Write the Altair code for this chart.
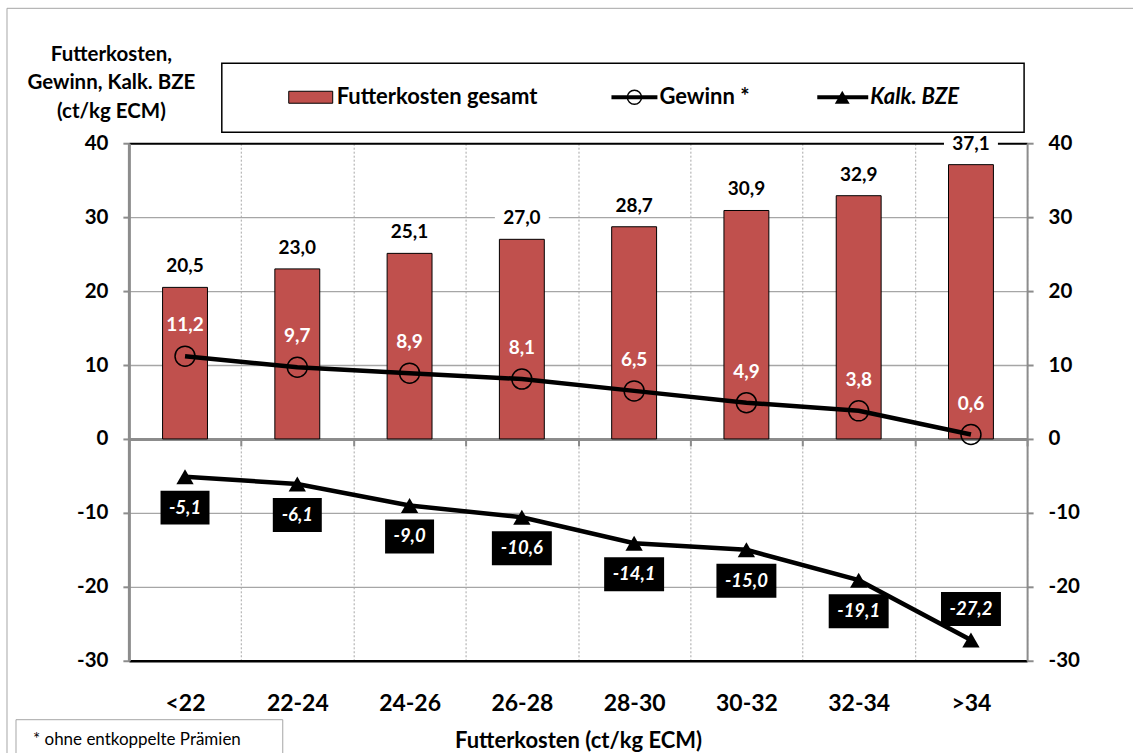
import altair as alt
import pandas as pd

# Feed-cost classes (ct/kg ECM) and the three series per class
cats = ["<22", "22-24", "24-26", "26-28", "28-30", "30-32", "32-34", ">34"]
futterkosten = [20.5, 23.0, 25.1, 27.0, 28.7, 30.9, 32.9, 37.1]
gewinn = [11.2, 9.7, 8.9, 8.1, 6.5, 4.9, 3.8, 0.6]
kalk_bze = [-5.1, -6.1, -9.0, -10.6, -14.1, -15.0, -19.1, -27.2]

series_names = ["Futterkosten gesamt", "Gewinn *", "Kalk. BZE"]
y_ticks = [-30, -20, -10, 0, 10, 20, 30, 40]
y_title = ["Futterkosten,", "Gewinn, Kalk. BZE", "(ct/kg ECM)"]
x_title = "Futterkosten (ct/kg ECM)"
footnote = "* ohne entkoppelte Prämien"

df = pd.DataFrame({"cat": cats, "kosten": futterkosten, "gewinn": gewinn, "bze": kalk_bze})

FONT = "Lato"
RED = "#C0504D"
GRAY = "#8c8c8c"

# German number format: decimal comma, plain hyphen for negatives
def label_expr(field):
    return f"replace(replace(format(datum.{field}, '.1f'), '.', ','), '\u2212', '-')"

yscale = alt.Scale(domain=[-30, 40], nice=False, zero=False)
xscale = alt.Scale(paddingInner=0, paddingOuter=0)

left_axis = alt.Axis(
    orient="left", values=y_ticks, labelExpr="toString(datum.value)",
    domain=True, domainColor=GRAY, domainWidth=3,
    ticks=True, tickColor=GRAY, tickWidth=2, tickSize=6,
    labelFont=FONT, labelFontSize=20.5, labelFontWeight="bold", labelColor="black", labelPadding=15,
    grid=True,
    gridColor={"condition": [
        {"test": "datum.value == 40 || datum.value == -30", "value": "black"},
        {"test": "datum.value == 0", "value": GRAY},
    ], "value": "#a6a6a6"},
    gridWidth={"condition": [
        {"test": "datum.value == 0", "value": 3},
        {"test": "datum.value == -30", "value": 2.5},
        {"test": "datum.value == 40", "value": 2},
    ], "value": 1.3},
    title=y_title, titleAngle=0, titleAlign="center", titleBaseline="alphabetic",
    titleX=-18, titleY=-83, titleFont=FONT, titleFontSize=20.5, titleFontWeight="bold",
    titleLineHeight=28.5, titleColor="black",
)

right_axis = alt.Axis(
    orient="right", values=y_ticks, labelExpr="toString(datum.value)",
    domain=True, domainColor=GRAY, domainWidth=2,
    ticks=True, tickColor=GRAY, tickWidth=2, tickSize=6,
    labelFont=FONT, labelFontSize=20.5, labelFontWeight="bold", labelColor="black", labelPadding=15,
    grid=False, title=None,
)

main_x_axis = alt.Axis(
    orient="bottom", tickBand="extent", grid=True, gridDash=[2, 2], gridColor="#a6a6a6", gridWidth=1,
    ticks=False, domain=False, labelAngle=0,
    labelFont=FONT, labelFontSize=23, labelFontWeight="bold", labelColor="black", labelPadding=32,
    title=x_title, titleFont=FONT, titleFontSize=22, titleFontWeight="bold", titleColor="black",
    titlePadding=15,
)

zero_x_axis = alt.Axis(
    orient="bottom", offset=-222, tickBand="extent", labels=False, domain=False, grid=False,
    ticks=True, tickColor=GRAY, tickWidth=2, tickSize=7, title=None,
)

def X(axis=None):
    return alt.X("cat:N", sort=cats, scale=xscale, axis=axis)

base = alt.Chart(df)

bars = base.mark_bar(width={"band": 0.4}, color=RED, stroke="black", strokeWidth=1).encode(
    x=X(main_x_axis), y=alt.Y("kosten:Q", scale=yscale, axis=left_axis)
)

# white backing behind the cost labels so grid lines stop short of the numbers
box_cost = "M-1,-0.41L1,-0.41L1,0.41L-1,0.41Z"
cost_halo = base.mark_point(shape=box_cost, size=2916, filled=True, color="white", opacity=1,
                            strokeWidth=0, yOffset=-21).encode(
    x=X(), y=alt.Y("kosten:Q", scale=yscale, axis=None)
)
cost_text = base.transform_calculate(lbl=label_expr("kosten")).mark_text(
    font=FONT, fontSize=19, fontWeight="bold", color="black", baseline="middle", yOffset=-21
).encode(x=X(), y=alt.Y("kosten:Q", scale=yscale, axis=None), text="lbl:N")

gewinn_line = base.mark_line(color="black", strokeWidth=4.5).encode(
    x=X(zero_x_axis), y=alt.Y("gewinn:Q", scale=yscale, axis=right_axis)
)
gewinn_pts = base.mark_point(shape="circle", filled=False, color="black", size=400,
                             strokeWidth=1.5, opacity=1).encode(
    x=X(), y=alt.Y("gewinn:Q", scale=yscale, axis=None)
)
gewinn_text = base.transform_calculate(lbl=label_expr("gewinn")).mark_text(
    font=FONT, fontSize=19, fontWeight="bold", color="white", baseline="middle", yOffset=-31
).encode(x=X(), y=alt.Y("gewinn:Q", scale=yscale, axis=None), text="lbl:N")

bze_line = base.mark_line(color="black", strokeWidth=4.5).encode(
    x=X(), y=alt.Y("bze:Q", scale=yscale, axis=None)
)
bze_pts = base.mark_point(shape="triangle-up", filled=True, color="black", size=300, opacity=1).encode(
    x=X(), y=alt.Y("bze:Q", scale=yscale, axis=None)
)

box4 = "M-0.817,-0.567L0.817,-0.567L0.817,0.567L-0.817,0.567Z"
box5 = "M-1,-0.567L1,-0.567L1,0.567L-1,0.567Z"

def bze_labels(test, dy):
    src = base.transform_filter(test).transform_calculate(lbl=label_expr("bze")).transform_calculate(
        n="length(datum.lbl)")
    boxes = src.mark_point(size=3600, filled=True, color="black", opacity=1, strokeWidth=0, yOffset=dy).encode(
        x=X(), y=alt.Y("bze:Q", scale=yscale, axis=None),
        shape=alt.Shape("n:O", scale=alt.Scale(domain=[4, 5], range=[box4, box5]), legend=None),
    )
    texts = src.mark_text(font=FONT, fontSize=18.5, fontWeight="bold", fontStyle="italic", color="white",
                          baseline="middle", yOffset=dy).encode(
        x=X(), y=alt.Y("bze:Q", scale=yscale, axis=None), text="lbl:N"
    )
    return [boxes, texts]

bze_below = bze_labels("datum.cat != '>34'", 31)
bze_above = bze_labels("datum.cat == '>34'", -31)

# Frame around the whole graphic and the footnote box (pixel offsets from the plot origin)
one = pd.DataFrame({"k": [0]})
frame = alt.Chart(one).mark_rect(fill=None, stroke="#a6a6a6", strokeWidth=1).encode(
    x=alt.value(-122), x2=alt.value(1030), y=alt.value(-135), y2=alt.value(700)
)
note_box = alt.Chart(one).mark_rect(fill="white", stroke="#a6a6a6", strokeWidth=1).encode(
    x=alt.value(-113), x2=alt.value(154), y=alt.value(577), y2=alt.value(700)
)
note_text = alt.Chart(pd.DataFrame({"t": [footnote]})).mark_text(
    font=FONT, fontSize=17, align="left", baseline="middle", color="black"
).encode(x=alt.value(-96), y=alt.value(597), text="t:N")

# Legend
LY = -46
leg_box = alt.Chart(one).mark_rect(fill="white", stroke="black", strokeWidth=1.5).encode(
    x=alt.value(93), x2=alt.value(896), y=alt.value(-80), y2=alt.value(-11)
)
leg_swatch = alt.Chart(one).mark_rect(fill=RED, stroke="black", strokeWidth=1).encode(
    x=alt.value(160), x2=alt.value(204), y=alt.value(-52), y2=alt.value(-40)
)
leg_rule1 = alt.Chart(one).mark_rule(color="black", strokeWidth=4).encode(
    x=alt.value(483), x2=alt.value(529), y=alt.value(LY)
)
leg_circ = alt.Chart(one).mark_point(shape="circle", filled=False, color="black", size=200,
                                     strokeWidth=1.5, opacity=1).encode(x=alt.value(506), y=alt.value(LY))
leg_rule2 = alt.Chart(one).mark_rule(color="black", strokeWidth=4).encode(
    x=alt.value(689), x2=alt.value(740), y=alt.value(LY)
)
leg_tri = alt.Chart(one).mark_point(shape="triangle-up", filled=True, color="black", size=220,
                                    opacity=1).encode(x=alt.value(714), y=alt.value(LY))

def leg_label(name, xpos, style="normal"):
    return alt.Chart(pd.DataFrame({"t": [name]})).mark_text(
        font=FONT, fontSize=22, fontWeight="bold", fontStyle=style, align="left", baseline="middle",
        color="black"
    ).encode(x=alt.value(xpos), y=alt.value(LY), text="t:N")

leg_t1 = leg_label(series_names[0], 208)
leg_t2 = leg_label(series_names[1], 531)
leg_t3 = leg_label(series_names[2], 742, "italic")

chart = alt.layer(
    frame, bars, cost_halo, cost_text,
    gewinn_line, gewinn_pts, gewinn_text,
    bze_line, bze_pts, *bze_below, *bze_above,
    leg_box, leg_swatch, leg_rule1, leg_circ, leg_rule2, leg_tri, leg_t1, leg_t2, leg_t3,
    note_box, note_text,
).resolve_scale(
    x="shared", y="shared"
).resolve_axis(
    x="independent", y="independent"
).properties(
    width=899, height=518,
    autosize=alt.AutoSizeParams(type="none"),
    padding={"left": 129, "top": 143, "right": 106, "bottom": 92},
).configure_view(stroke=None).configure(background="white")

chart.save("out.html", embed_options={"renderer": "svg", "actions": False})
